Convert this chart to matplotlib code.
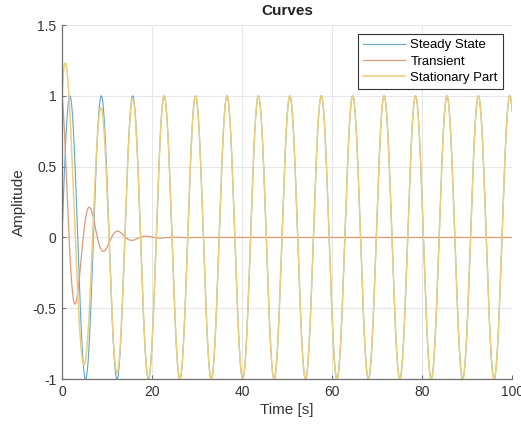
import numpy as np
import matplotlib.pyplot as plt

# values
time_end = 100.0          # s, x axis range
steady_amp = 1.0          # peaks of the blue / yellow sine
steady_omega = 0.9        # rad/s, peaks at ~1.7, 8.7, 15.7, 22.7 s
trans_start = 1.0         # transient starts at 1
trans_decay = 0.25        # 1/s, extrema -0.45, 0.2, -0.09, 0.04
trans_omega = 1.0         # rad/s, extrema at ~3.1, 6.3, 9.4 s

legend_labels = ['Steady State', 'Transient', 'Stationary Part']
x_ticks = [0, 20, 40, 60, 80, 100]
y_ticks = [-1, -0.5, 0, 0.5, 1, 1.5]

colors = ['#5ea5d2', '#dc9a78', '#eccf78']

plt.rcParams['font.family'] = ['Liberation Sans', 'DejaVu Sans']

t = np.linspace(0, time_end, 4001)
steady = steady_amp * np.sin(steady_omega * t)
transient = trans_start * np.exp(-trans_decay * t) * np.cos(trans_omega * t)
total = steady + transient

fig = plt.figure(figsize=(5.21, 4.25), dpi=100)
ax = fig.add_axes([0.119, 0.108, 0.864, 0.833])

ax.plot(t, steady, color=colors[0], lw=0.8, label=legend_labels[0])
ax.plot(t, transient, color=colors[1], lw=0.9, label=legend_labels[1])
ax.plot(t, total, color=colors[2], lw=1.1, label=legend_labels[2])

ax.set_xlim(0, time_end)
ax.set_ylim(-1, 1.5)
ax.set_xticks(x_ticks)
ax.set_yticks(y_ticks)
ax.set_yticklabels(['-1', '-0.5', '0', '0.5', '1', '1.5'])
ax.grid(True, color='#e6e6e6', lw=0.8)
ax.set_axisbelow(True)
for s in ['top', 'right']:
    ax.spines[s].set_visible(False)
for s in ['left', 'bottom']:
    ax.spines[s].set_color('#707070')
    ax.spines[s].set_linewidth(0.9)
ax.tick_params(direction='in', length=3, color='#707070', labelcolor='#333333',
               labelsize=10, pad=4)

ax.set_title('Curves', fontsize=11, fontweight='bold', color='#222222', pad=7)
ax.set_xlabel('Time [s]', fontsize=11, color='#333333', labelpad=3)
ax.set_ylabel('Amplitude', fontsize=11, color='#333333', labelpad=5)

leg = ax.legend(loc='upper right', bbox_to_anchor=(0.98, 0.975), fontsize=9.5,
                fancybox=False, framealpha=1, edgecolor='#333333',
                handlelength=3.2, borderpad=0.4, labelspacing=0.3,
                handletextpad=0.4, borderaxespad=0)
leg.get_frame().set_linewidth(0.8)

fig.savefig('out.png', dpi=100)
